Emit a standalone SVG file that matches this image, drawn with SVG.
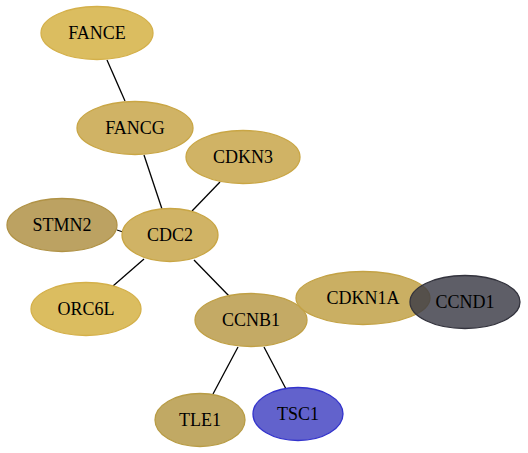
<svg xmlns="http://www.w3.org/2000/svg" width="528" height="453" viewBox="0 0 528 453">
<style>
.e{stroke:#000;stroke-width:1.3;fill:none}
.n ellipse{stroke-width:1.3;fill-opacity:0.92}
.n text{font-family:"Liberation Serif",serif;font-size:18px;text-anchor:middle;fill:#000}
</style>
<rect width="528" height="453" fill="#fff"/>
<g id="edges">
<line class="e" x1="107" y1="60" x2="125" y2="101"/>
<line class="e" x1="144" y1="155" x2="162" y2="209"/>
<line class="e" x1="220" y1="182" x2="192" y2="211"/>
<line class="e" x1="117" y1="230" x2="123" y2="232"/>
<line class="e" x1="144" y1="259" x2="113" y2="286"/>
<line class="e" x1="194" y1="260" x2="230" y2="297"/>
<line class="e" x1="238" y1="347" x2="213" y2="394"/>
<line class="e" x1="264" y1="347" x2="286" y2="389"/>
</g>
<g id="FANCE" class="n"><ellipse cx="97" cy="33" rx="56" ry="26.5" fill="#d8b752" stroke="#d4b04a"/><text x="97" y="39">FANCE</text></g>
<g id="FANCG" class="n"><ellipse cx="135" cy="128" rx="58" ry="26.5" fill="#ccad58" stroke="#c9a645"/><text x="135" y="134">FANCG</text></g>
<g id="CDKN3" class="n"><ellipse cx="243" cy="157" rx="57" ry="26.5" fill="#ccad58" stroke="#c9a645"/><text x="243" y="163">CDKN3</text></g>
<g id="STMN2" class="n"><ellipse cx="62" cy="225" rx="55" ry="26.5" fill="#b69a55" stroke="#b09245"/><text x="62" y="231">STMN2</text></g>
<g id="CDC2" class="n"><ellipse cx="170" cy="235" rx="48" ry="26.5" fill="#ccad58" stroke="#c9a645"/><text x="170" y="241">CDC2</text></g>
<g id="ORC6L" class="n"><ellipse cx="86" cy="309" rx="55" ry="26.5" fill="#d8b752" stroke="#d4b04a"/><text x="86" y="315">ORC6L</text></g>
<g id="CCNB1" class="n"><ellipse cx="251" cy="320" rx="56" ry="26.5" fill="#bfa358" stroke="#c0a045"/><text x="251" y="326">CCNB1</text></g>
<g id="CDKN1A" class="n"><ellipse cx="363" cy="298" rx="67" ry="26.5" fill="#c6a856" stroke="#c3a245"/><text x="363" y="304">CDKN1A</text></g>
<g id="CCND1" class="n"><ellipse cx="465" cy="302" rx="55" ry="26.5" fill="#3b3b46" stroke="#33333d" style="fill-opacity:0.82"/><text x="465" y="308">CCND1</text></g>
<g id="TLE1" class="n"><ellipse cx="200" cy="420" rx="45" ry="26.5" fill="#bca257" stroke="#b89c45"/><text x="200" y="426">TLE1</text></g>
<g id="TSC1" class="n"><ellipse cx="298" cy="414" rx="45" ry="26.5" fill="#5555c8" stroke="#3333cc"/><text x="298" y="420">TSC1</text></g>
</svg>
